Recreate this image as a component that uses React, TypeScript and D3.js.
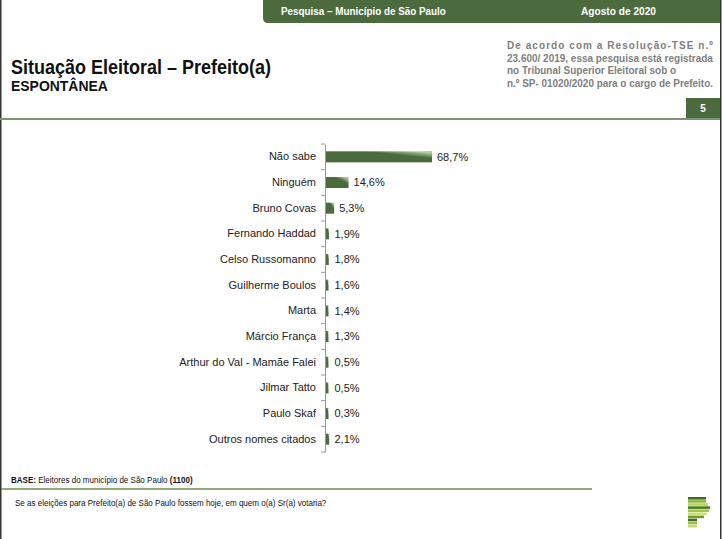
import * as d3 from "d3";
import { useEffect, useRef } from "react";

const categories = [
  "Não sabe",
  "Ninguém",
  "Bruno Covas",
  "Fernando Haddad",
  "Celso Russomanno",
  "Guilherme Boulos",
  "Marta",
  "Márcio França",
  "Arthur do Val - Mamãe Falei",
  "Jilmar Tatto",
  "Paulo Skaf",
  "Outros nomes citados",
];
const values = [68.7, 14.6, 5.3, 1.9, 1.8, 1.6, 1.4, 1.3, 0.5, 0.5, 0.3, 2.1];

const noteLines = [
  "De acordo com a Resolução-TSE n.º",
  "23.600/ 2019, essa pesquisa está registrada",
  "no Tribunal Superior Eleitoral sob o",
  "n.º SP- 01020/2020 para o cargo de Prefeito.",
];

// logo stripes (widths in px, colours)
const logoWidths = [18, 18, 20, 22, 21, 19, 16, 9, 9, 9];
const logoColors = ["#3f6b26", "#8fb63c", "#b9d45a", "#4a7a22", "#a3c64a", "#cde06c", "#6f9a30", "#3f6b26", "#9cc045", "#c7dd6a"];

const W = 722;
const H = 539;
const GREEN = "#4b6a3e";

export default function App() {
  const ref = useRef<SVGSVGElement | null>(null);

  useEffect(() => {
    const svg = d3.select(ref.current as SVGSVGElement);
    svg.selectAll("*").remove();
    const font = "'Liberation Sans', Arial, sans-serif";

    const defs = svg.append("defs");
    const grad = defs
      .append("linearGradient")
      .attr("id", "barGrad")
      .attr("x1", 0)
      .attr("y1", 1)
      .attr("x2", 1)
      .attr("y2", 0);
    grad.append("stop").attr("offset", 0).attr("stop-color", GREEN);
    grad.append("stop").attr("offset", 0.68).attr("stop-color", GREEN);
    grad.append("stop").attr("offset", 0.93).attr("stop-color", "#b3cfa3");
    grad.append("stop").attr("offset", 1).attr("stop-color", "#8cad7c");

    svg.append("rect").attr("width", W).attr("height", H).attr("fill", "#fff");

    // page borders
    svg.append("line").attr("x1", 0.75).attr("x2", 0.75).attr("y1", 0).attr("y2", H).attr("stroke", "#333").attr("stroke-width", 1.5);
    svg.append("line").attr("x1", 720.75).attr("x2", 720.75).attr("y1", 0).attr("y2", H).attr("stroke", "#333").attr("stroke-width", 1.5);

    // narrow look: draw normally, then squeeze horizontally to the measured width
    const squeezed = (t: string, xx: number, yy: number, len: number, size: number, bold: boolean, fill: string) => {
      const tx = svg
        .append("text")
        .attr("font-family", font)
        .attr("font-weight", bold ? "bold" : "normal")
        .attr("font-size", size)
        .attr("fill", fill)
        .text(t);
      const k = len / (tx.node() as SVGTextElement).getComputedTextLength();
      tx.attr("transform", `translate(${xx},${yy}) scale(${k},1)`);
      return k;
    };

    // header bar
    svg
      .append("path")
      .attr("d", "M263,0 H720 V23 H268 Q263,23 263,18 Z")
      .attr("fill", GREEN);
    squeezed("Pesquisa – Município de São Paulo", 281, 15, 165, 11, true, "#fff");
    squeezed("Agosto de 2020", 581, 15, 75, 11, true, "#fff");

    // titles
    squeezed("Situação Eleitoral – Prefeito(a)", 11, 74, 260, 20, true, "#111");
    squeezed("ESPONTÂNEA", 11, 91, 97, 14, true, "#111");

    // note (justified block, same glyph squeeze on every line)
    const noteY = [49, 61.5, 74, 86.5];
    const k2 = squeezed(noteLines[1], 507, noteY[1], 206, 11, true, "#808080");
    [0, 2, 3].forEach((i) => {
      const tx = svg
        .append("text")
        .attr("transform", `translate(507,${noteY[i]}) scale(${k2},1)`)
        .attr("font-family", font)
        .attr("font-weight", "bold")
        .attr("font-size", 11)
        .attr("fill", "#808080")
        .text(noteLines[i]);
      if (i !== 2) tx.attr("textLength", 206 / k2).attr("lengthAdjust", "spacing");
    });

    // page number
    svg.append("rect").attr("x", 686).attr("y", 98).attr("width", 34).attr("height", 20).attr("fill", GREEN);
    svg.append("text").attr("x", 703).attr("y", 112).attr("text-anchor", "middle").attr("font-family", font).attr("font-weight", "bold").attr("font-size", 10).attr("fill", "#fff").text("5");
    svg.append("line").attr("x1", 0).attr("x2", 720).attr("y1", 119).attr("y2", 119).attr("stroke", "#7f9470").attr("stroke-width", 2);

    // chart
    const x0 = 325;
    const x = d3.scaleLinear().domain([0, 68.7]).range([x0, 431]);
    const y = d3.scaleBand<string>().domain(categories).range([144, 452]).paddingInner(0.57).paddingOuter(0.285);

    const axis = d3.axisLeft(y).tickSize(0).tickPadding(9);
    const ag = svg.append("g").attr("transform", `translate(${x0},0)`).call(axis);
    ag.select(".domain").attr("stroke", "#999");
    ag.selectAll("text").attr("font-family", font).attr("font-size", 11).attr("fill", "#222");

    // boundary ticks
    const step = y.step();
    const bounds = d3.range(categories.length + 1).map((i) => 144 + i * step);
    svg
      .append("g")
      .selectAll("line")
      .data(bounds)
      .join("line")
      .attr("x1", x0 - 4)
      .attr("x2", x0)
      .attr("y1", (d) => d)
      .attr("y2", (d) => d)
      .attr("stroke", "#999");

    svg
      .append("g")
      .selectAll("rect")
      .data(values)
      .join("rect")
      .attr("x", x0 + 1)
      .attr("y", (_, i) => y(categories[i])!)
      .attr("width", (d) => Math.max(2.5, x(d) - x0))
      .attr("height", y.bandwidth())
      .attr("fill", "url(#barGrad)");

    svg
      .append("g")
      .selectAll("text")
      .data(values)
      .join("text")
      .attr("x", (d) => Math.max(x0 + 3.5, x(d)) + 6)
      .attr("y", (_, i) => y(categories[i])! + y.bandwidth() / 2)
      .attr("dy", "0.36em")
      .attr("font-family", font)
      .attr("font-size", 11)
      .attr("fill", "#222")
      .text((d) => d.toFixed(1).replace(".", ",") + "%");

    // footer
    const base = svg.append("text").attr("font-family", font).attr("font-size", 9).attr("fill", "#111");
    base.append("tspan").attr("font-weight", "bold").text("BASE: ");
    base.append("tspan").text("Eleitores do município de São Paulo ");
    base.append("tspan").attr("font-weight", "bold").text("(1100)");
    const kb = 182 / (base.node() as SVGTextElement).getComputedTextLength();
    base.attr("transform", `translate(11,483) scale(${kb},1)`);
    svg.append("line").attr("x1", 1).attr("x2", 592).attr("y1", 489).attr("y2", 489).attr("stroke", "#6b8f4a").attr("stroke-width", 1.5);
    squeezed("Se as eleições para Prefeito(a) de São Paulo fossem hoje, em quem o(a) Sr(a) votaria?", 15, 506, 312, 9, false, "#111");

    // logo
    svg
      .append("g")
      .selectAll("rect")
      .data(logoWidths)
      .join("rect")
      .attr("x", 688)
      .attr("y", (_, i) => 497 + i * 3.1)
      .attr("width", (d) => d)
      .attr("height", 2.6)
      .attr("fill", (_, i) => logoColors[i]);
  }, []);

  return (
    <div style={{ position: "absolute", left: 0, top: 0 }}>
      <svg ref={ref} width={W} height={H} style={{ display: "block" }} />
    </div>
  );
}
